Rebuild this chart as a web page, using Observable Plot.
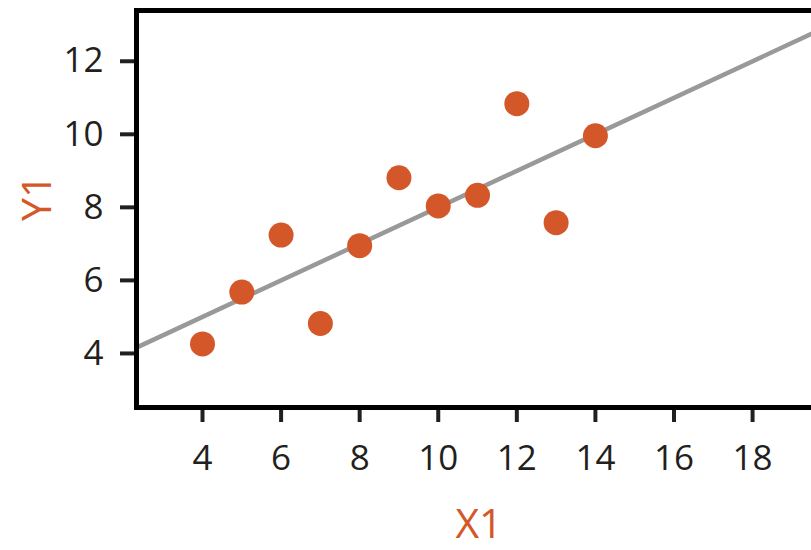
<!DOCTYPE html>
<html>
<head>
<meta charset="utf-8">
<script src="https://cdn.jsdelivr.net/npm/d3@7"></script>
<script src="https://cdn.jsdelivr.net/npm/@observablehq/plot@0.6"></script>
<style>
  html, body { margin: 0; padding: 0; background: #fff; }
  #chart svg { display: block; }
</style>
</head>
<body>
<div id="chart"></div>
<script>
const x1 = [10, 8, 13, 9, 11, 14, 6, 4, 12, 7, 5];
const y1 = [8.04, 6.95, 7.58, 8.81, 8.33, 9.96, 7.24, 4.26, 10.84, 4.82, 5.68];
const fitX = [2.32, 19.5];
const fitY = [4.16, 12.75];
const xTicks = [4, 6, 8, 10, 12, 14, 16, 18];
const yTicks = [4, 6, 8, 10, 12];
const xLabel = "X1";
const yLabel = "Y1";

const points = x1.map((x, i) => ({x, y: y1[i]}));
const fit = fitX.map((x, i) => ({x, y: fitY[i]}));

const orange = "#d4572a";
const ink = "#231f20";
const font = "Open Sans, sans-serif";

const chart = Plot.plot({
  width: 811,
  height: 550,
  marginLeft: 136,
  marginRight: 0,
  marginTop: 10,
  marginBottom: 143,
  style: {fontFamily: font, background: "#fff"},
  x: {domain: [2.32, 19.5]},
  y: {domain: [2.52, 13.39]},
  marks: [
    Plot.axisX({ticks: xTicks, tickSize: 15, tickPadding: 23, strokeWidth: 4, fontSize: 35, color: ink, label: null}),
    Plot.axisY({ticks: yTicks, tickSize: 16, tickPadding: 17, strokeWidth: 4, fontSize: 35, color: ink, label: null}),
    Plot.line(fit, {x: "x", y: "y", stroke: "#999999", strokeWidth: 4.5}),
    Plot.dot(points, {x: "x", y: "y", r: 12.5, fill: orange}),
    Plot.frame({anchor: "top", stroke: "#000", strokeWidth: 5}),
    Plot.frame({anchor: "bottom", stroke: "#000", strokeWidth: 5}),
    Plot.frame({anchor: "left", stroke: "#000", strokeWidth: 5}),
    Plot.text([yLabel], {frameAnchor: "left", dx: -99, dy: 12, rotate: -90, fontSize: 41, fill: orange, fontFamily: font}),
    Plot.text([xLabel], {frameAnchor: "bottom", dx: 5, dy: 130, fontSize: 41, fill: orange, fontFamily: font})
  ]
});
document.getElementById("chart").append(chart);
</script>
</body>
</html>
